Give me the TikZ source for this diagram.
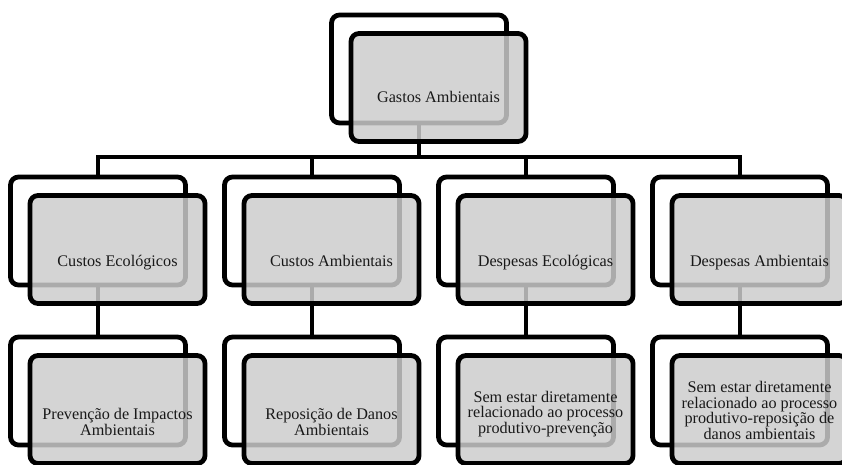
\documentclass[tikz,border=0pt]{standalone}
\usepackage{fontspec}
\setmainfont{Liberation Serif}
\begin{document}
\begin{tikzpicture}[x=1pt,y=-1pt,
  backbox/.style={draw=black, line width=4.8pt, rounded corners=8pt, fill=white,
                  minimum width=175pt, minimum height=108pt, inner sep=0pt},
  frontbox/.style={backbox, fill=black!20, fill opacity=0.84},
  conn/.style={draw=black, line width=4.8pt},
  boxtext/.style={font=\fontsize{16.2}{15.6}\selectfont, align=center, inner sep=0pt, text=black!90}
]
\useasboundingbox (0,0) rectangle (842,465);
\clip (0,0) rectangle (842,465);

% back frames (white)
\node[backbox] (g0) at (419,69) {};
\node[backbox] (c1) at (98,231) {};
\node[backbox] (c2) at (312,231) {};
\node[backbox] (c3) at (526,231) {};
\node[backbox] (c4) at (740,231) {};
\node[backbox] (d1) at (98,391) {};
\node[backbox] (d2) at (312,391) {};
\node[backbox] (d3) at (526,391) {};
\node[backbox] (d4) at (740,391) {};

% connectors
\coordinate (bus) at (419,157);
\foreach \n in {c1,c2,c3,c4}
  \draw[conn] (g0.south) |- (bus -| \n.north) -- (\n.north);
\foreach \a/\b in {c1/d1,c2/d2,c3/d3,c4/d4}
  \draw[conn] (\a.south) -- (\b.north);

% front panels (translucent grey)
\node[frontbox] (g0f) at (438.5,87.5) {};
\node[frontbox] (c1f) at (117.5,249.5) {};
\node[frontbox] (c2f) at (331.5,249.5) {};
\node[frontbox] (c3f) at (545.5,249.5) {};
\node[frontbox] (c4f) at (759.5,249.5) {};
\node[frontbox] (d1f) at (117.5,409.5) {};
\node[frontbox] (d2f) at (331.5,409.5) {};
\node[frontbox] (d3f) at (545.5,409.5) {};
\node[frontbox] (d4f) at (759.5,409.5) {};

% texts
\node[boxtext, anchor=base] (t0) at (438.5,103) {Gastos Ambientais};
\node[boxtext, anchor=base] (t1) at (117.5,266) {Custos Ecológicos};
\node[boxtext, anchor=base] (t2) at (331.5,266) {Custos Ambientais};
\node[boxtext, anchor=base] (t3) at (545.5,266) {Despesas Ecológicas};
\node[boxtext, anchor=base] (t4) at (759.5,266) {Despesas Ambientais};
\node[boxtext] (u1) at (117.5,421.7) {Prevenção de Impactos\\Ambientais};
\node[boxtext] (u2) at (331.5,422) {Reposição de Danos\\Ambientais};
\node[boxtext] (u3) at (545.5,414) {Sem estar diretamente\\relacionado ao processo\\produtivo-prevenção};
\node[boxtext] (u4) at (759.5,410.5) {Sem estar diretamente\\relacionado ao processo\\produtivo-reposição de\\danos ambientais};
\end{tikzpicture}
\end{document}
